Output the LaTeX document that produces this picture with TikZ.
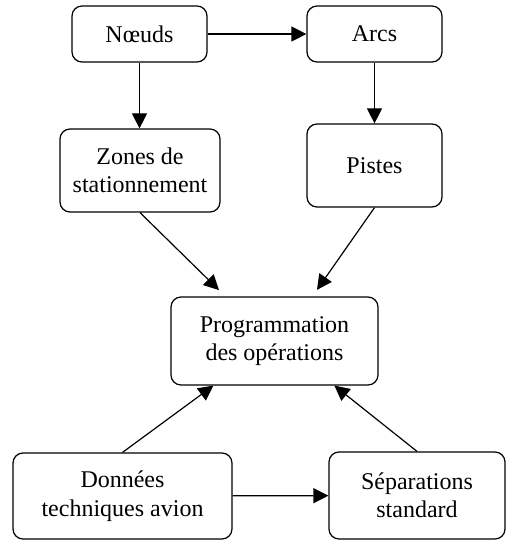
\documentclass[tikz,border=0pt]{standalone}
\usepackage{fontspec}
\setmainfont{Liberation Serif}
\usetikzlibrary{positioning,arrows.meta,calc}

\begin{document}
\begin{tikzpicture}[x=1pt,y=-1pt,font=\fontsize{24}{28.5}\selectfont,
  bx/.style={draw,rounded corners=10pt,line width=1.2pt,inner sep=0pt,align=center},
  fl/.style={-{Triangle[length=15pt,width=15pt]},line width=1.2pt}]
\useasboundingbox (0,0) rectangle (506,540);
\node[bx,minimum width=135pt,minimum height=56pt] (nd) at (139.5,34) {Nœuds};
\node[bx,minimum width=135pt,minimum height=56pt] (arc) at (374.5,34) {Arcs};
\node[bx,minimum width=160pt,minimum height=83pt] (zon) at (140,170.5) {Zones de\\stationnement};
\node[bx,minimum width=135pt,minimum height=83pt] (pst) at (374.5,165.5) {Pistes};
\node[bx,minimum width=207pt,minimum height=88pt] (prg) at (274.5,341) {Programmation\\des opérations};
\node[bx,minimum width=219pt,minimum height=86pt] (don) at (122.5,496) {Données\\techniques avion};
\node[bx,minimum width=176pt,minimum height=87pt] (sep) at (417,495.5) {Séparations\\standard};
\draw[fl] (nd) -- (arc);
\draw[fl] (nd.south) -- (nd.south |- zon.north);
\draw[fl] (arc.south) -- (arc.south |- pst.north);
\draw[fl,shorten >=9pt] (zon.south) -- ($(prg.north west)+(55,0)$);
\draw[fl,shorten >=8pt] (pst.south) -- ($(prg.north west)+(142,0)$);
\draw[fl] (don.north) -- ($(prg.south west)+(43,0)$);
\draw[fl] (sep.north) -- ($(prg.south west)+(164,0)$);
\draw[fl] (don) -- (sep);
\end{tikzpicture}
\end{document}
